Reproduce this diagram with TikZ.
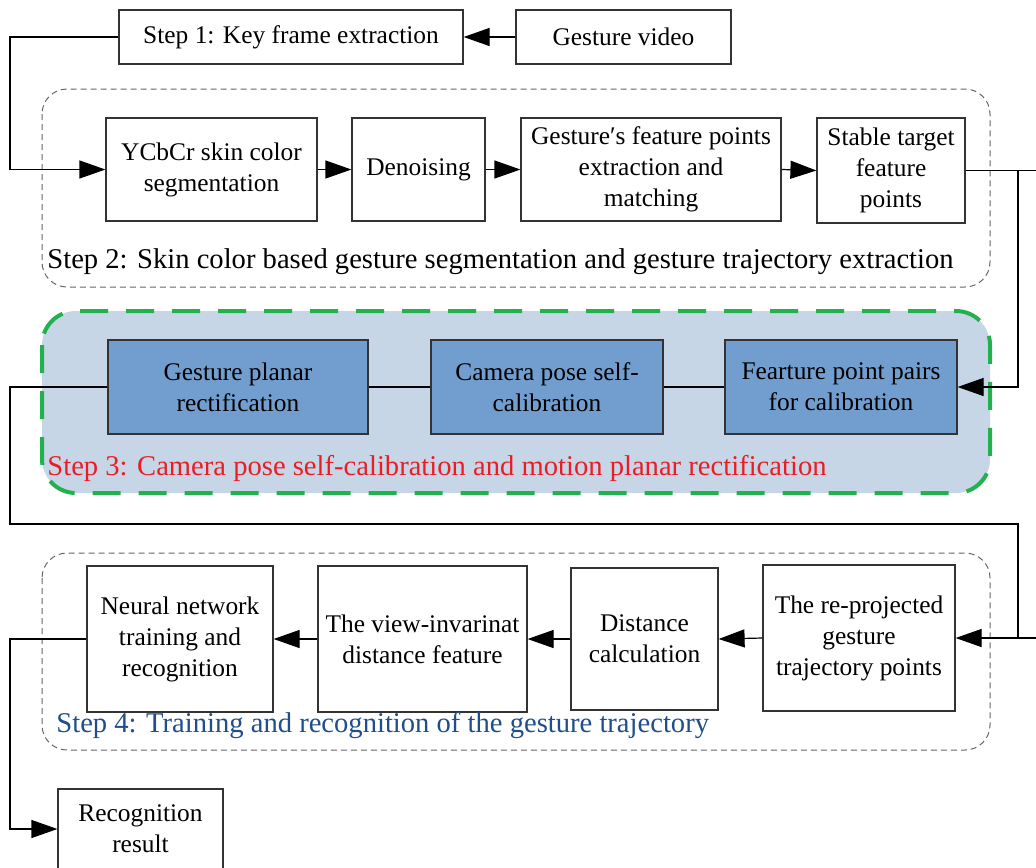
\documentclass[tikz,border=0pt]{standalone}
\usepackage{fontspec}
\setmainfont{Liberation Serif}
\usetikzlibrary{arrows.meta}
\definecolor{boxblue}{RGB}{114,158,207}
\definecolor{bgblue}{RGB}{198,214,230}
\definecolor{dgreen}{RGB}{34,177,76}
\definecolor{sred}{RGB}{237,28,36}
\definecolor{sblue}{RGB}{31,78,138}
\begin{document}
\begin{tikzpicture}[x=0.5pt,y=-0.5pt,
 box/.style={draw=black!80, line width=0.6pt, align=center, inner sep=1pt, font=\fontsize{12.7}{15.5}\selectfont},
 bluebox/.style={box, fill=boxblue},
 arr/.style={-{Triangle[length=13pt,width=9pt]}, line width=0.6pt},
 ln/.style={line width=0.6pt},
 grp/.style={draw=black!60, dash pattern=on 3pt off 2pt, line width=0.5pt, rounded corners=12.5pt},
 grp3/.style={draw=dgreen, fill=bgblue, dash pattern=on 14pt off 9pt, line width=2pt, rounded corners=17pt},
 lab/.style={anchor=west, inner sep=0pt, font=\fontsize{14.3}{17}\selectfont}]
\useasboundingbox (0,0) rectangle (1036,867);

% group frames
\draw[grp] (42,89) rectangle (990,287);
\draw[grp3] (42,311) rectangle (990,493);
\draw[grp] (42,553) rectangle (990,750);

% step 1
\node[box, minimum width=172pt, minimum height=27pt] (s1) at (291,37) {Step 1: Key frame extraction};
\node[box, minimum width=107.5pt, minimum height=27pt] (vid) at (623.5,37) {Gesture video};

% step 2
\node[box, minimum width=105.5pt, minimum height=51.5pt] (ycb) at (211.5,169.5) {YCbCr skin color\\segmentation};
\node[box, minimum width=66.5pt, minimum height=51.5pt] (den) at (418.5,169.5) {Denoising};
\node[box, minimum width=130pt, minimum height=51.5pt] (gfp) at (651,169.5) {Gesture′s feature points\\extraction and\\matching};
\node[box, minimum width=74pt, minimum height=52.5pt] (stb) at (891,170.5) {Stable target\\feature\\points};
\node[lab] (l2) at (47,262) {Step 2: Skin color based gesture segmentation and gesture trajectory extraction};

% step 3
\node[bluebox, minimum width=130pt, minimum height=47pt] (gpr) at (238,387) {Gesture planar\\rectification};
\node[bluebox, minimum width=116pt, minimum height=47pt] (cps) at (547,387) {Camera pose self-\\calibration};
\node[bluebox, minimum width=116pt, minimum height=47pt] (fpp) at (841,387) {Fearture point pairs\\for calibration};
\node[lab, text=sred] (l3) at (47,468) {Step 3: Camera pose self-calibration and motion planar rectification};

% step 4
\node[box, minimum width=93pt, minimum height=73pt] (nn) at (180,639) {Neural network\\training and\\recognition};
\node[box, minimum width=104.5pt, minimum height=73pt] (vw) at (422.5,639) {The view-invarinat\\distance feature};
\node[box, minimum width=73.5pt, minimum height=71pt] (dist) at (644.5,639) {Distance\\calculation};
\node[box, minimum width=96pt, minimum height=73pt] (rep) at (859,638) {The re-projected\\gesture\\trajectory points};
\node[lab, text=sblue] (l4) at (56,726) {Step 4: Training and recognition of the gesture trajectory};

% result
\node[box, minimum width=82.5pt, minimum height=40pt] (rec) at (140.5,829) {Recognition\\result};

% routing coordinates
\coordinate (L) at (10,0);
\coordinate (R) at (1018,0);
\coordinate (E) at (1036,0);
\coordinate (M) at (0,524);

% connectors
\draw[arr] (vid.west) -- (s1.east);
\draw[arr] (s1.west) -- (s1.west -| L) |- (ycb.west);
\draw[arr] (ycb.east) -- (den.west);
\draw[arr] (den.east) -- (gfp.west);
\draw[arr] (gfp.east) -- (stb.west);
\draw[arr] (stb.east) -- (stb.east -| R) |- (fpp.east);
\draw[ln] (stb.east -| R) -- (stb.east -| E);
\draw[ln] (fpp.west) -- (cps.east);
\draw[ln] (cps.west) -- (gpr.east);
\draw[arr] (gpr.west) -- (gpr.west -| L) -- (L |- M) -- (R |- M) |- (rep.east);
\draw[ln] (rep.east -| R) -- (rep.east -| E);
\draw[arr] (rep.west) -- (dist.east);
\draw[arr] (dist.west) -- (vw.east);
\draw[arr] (vw.west) -- (nn.east);
\draw[arr] (nn.west) -- (nn.west -| L) |- (rec.west);
\end{tikzpicture}
\end{document}
